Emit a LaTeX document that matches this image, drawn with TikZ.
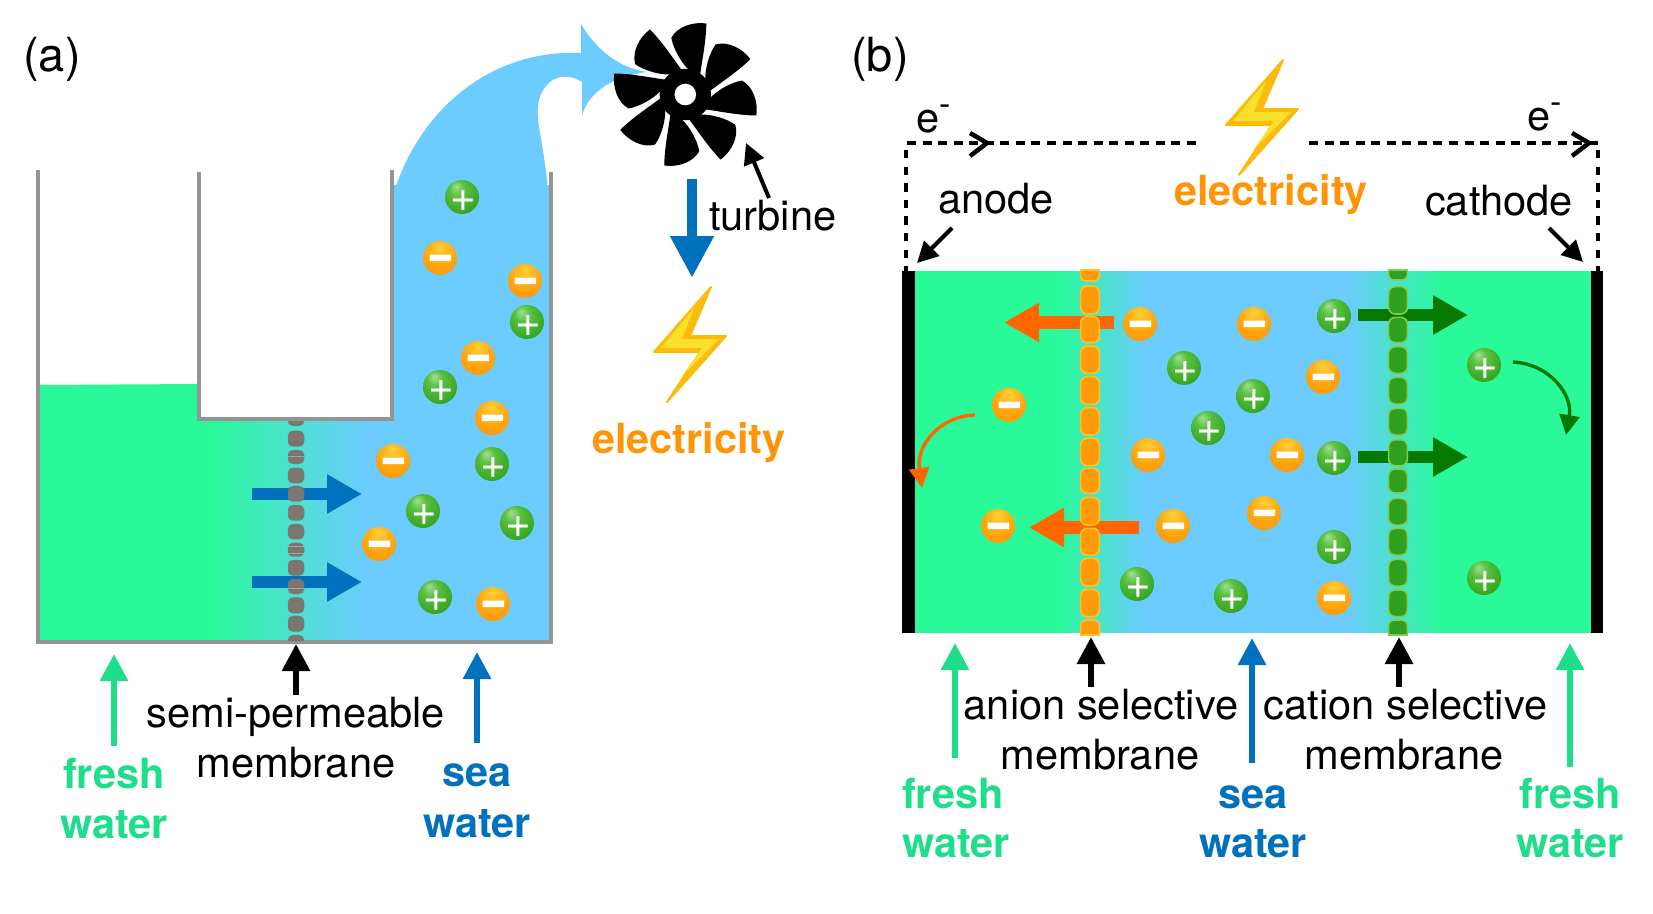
\documentclass[tikz,border=0pt]{standalone}
\usepackage{fontspec}
\usepackage{graphicx}
\setmainfont{TeX Gyre Heros}
\usetikzlibrary{arrows.meta,calc}

\definecolor{freshw}{HTML}{2AF99A}
\definecolor{seaw}{HTML}{6CCBFF}
\definecolor{wall}{HTML}{949494}
\definecolor{freshtxt}{HTML}{1FDD8B}
\definecolor{seatxt}{HTML}{0071BC}
\definecolor{powertxt}{HTML}{FF9408}
\definecolor{anionflow}{HTML}{FF6600}
\definecolor{cationflow}{HTML}{067A00}
\definecolor{boltedge}{HTML}{FBBB0B}
\definecolor{boltcore}{HTML}{F9E02B}
\definecolor{pelgray}{HTML}{7A7670}
\definecolor{pelgrayline}{HTML}{A8A5A0}
\definecolor{pelorange}{HTML}{FF9A08}
\definecolor{pelorangeline}{HTML}{FFC12A}
\definecolor{pelgreen}{HTML}{2FA01E}
\definecolor{pelgreenline}{HTML}{80CC58}

\definecolor{cat0}{HTML}{A0E090}
\definecolor{cat1}{HTML}{58C040}
\definecolor{cat2}{HTML}{33A41E}
\definecolor{cat3}{HTML}{0F7D10}
\definecolor{cat4}{HTML}{006008}
\definecolor{ani0}{HTML}{FFD038}
\definecolor{ani1}{HTML}{FFA60E}
\definecolor{ani2}{HTML}{FF8C04}
\definecolor{ani3}{HTML}{FF7000}

\pgfdeclareradialshading{cationball}{\pgfpoint{-9bp}{16bp}}{
  color(0bp)=(cat0);
  color(12bp)=(cat1);
  color(32bp)=(cat2);
  color(44bp)=(cat3);
  color(50bp)=(cat4)}
\pgfdeclareradialshading{anionball}{\pgfpoint{0bp}{18bp}}{
  color(0bp)=(ani0);
  color(22bp)=(ani1);
  color(42bp)=(ani2);
  color(50bp)=(ani3)}

\tikzset{
  lab/.style={inner sep=0pt,anchor=base,font=\fontsize{41.6}{50}\selectfont},
  boldlab/.style={lab,font=\fontsize{41.5}{50}\selectfont\bfseries},
  panel/.style={lab,font=\fontsize{47}{50}\selectfont},
  cation/.style={circle,minimum size=34pt,inner sep=0pt,shading=cationball,text=white,
    font=\fontsize{44}{44}\selectfont},
  anion/.style={circle,minimum size=34pt,inner sep=0pt,shading=anionball,text=white,
    font=\fontsize{46}{46}\selectfont\bfseries},
  tagarrow/.style={line width=6pt,-{Triangle[length=27pt,width=27pt]}},
  thinarrow/.style={line width=4pt,-{Triangle[length=21pt,width=21pt]}},
  blockarrow/.style={line width=12.5pt,-{Triangle[length=35pt,width=37pt]}},
  bendarrow/.style={line width=3.4pt,-{Triangle[length=20pt,width=20pt]}},
  wire/.style={line width=4.4pt,dash pattern=on 9pt off 6.55pt},
  riser/.style={line width=3.4pt,dash pattern=on 8.3pt off 8.3pt},
  chevron/.style={line width=4.5pt},
  vessel/.style={draw=wall,line width=3.6pt},
  graypellet/.style={fill=pelgray,rounded corners=5pt},
  orangepellet/.style={fill=pelorange,draw=pelorangeline,line width=1.6pt,rounded corners=6.5pt},
  greenpellet/.style={fill=pelgreen,draw=pelgreenline,line width=1.6pt,rounded corners=6.5pt},
  bolt/.pic={
    \fill[boltedge,draw=boltedge,line width=2pt,line join=round]
      (0,1) -- (-57,66) -- (-11,66) -- (-44,116) -- (15,50) -- (-21,50) -- cycle;
    \fill[boltcore] (-17,22) -- (-50,62) -- (-9,62) -- (-29,90) -- (8,53) -- (-29,53) -- cycle;
  },
  blade/.pic={
    \fill (3.3,-25) .. controls (-5,-33) and (-12,-46) .. (-14,-56.7)
      .. controls (-8,-68) and (8,-73) .. (21,-71)
      .. controls (21,-55) and (17,-35) .. (15,-21) -- (0,0) -- cycle;
  }
}

% ion glyphs: zero-height boxes, so the sphere's centre is the glyph's baseline
\newcommand\plusmark{\hspace*{2.6pt}\raisebox{-14.4pt}[0pt][0pt]{+}}
\newcommand\minusmark{\hspace*{2pt}\raisebox{-16pt}[0pt][0pt]{\scalebox{1}[1.4]{−}}}
\newcommand\esup{\raisebox{16.5pt}{\fontsize{34}{34}\selectfont -}}

% a connector between two named ends
\newcommand\link[4]{\coordinate (#1a) at #3;\coordinate (#1b) at #4;\draw[#2] (#1a) -- (#1b);}

% a column of membrane pellets: x, width, style, list of centre/height
\newcommand\pellets[4]{%
  \foreach \c/\h in {#4}{%
    \path[#3] ({#1-#2/2},{\c-\h/2}) rectangle ({#1+#2/2},{\c+\h/2});}}
% end cap of a membrane column: x, width, style, flat edge y, round edge y
\newcommand\pellettop[5]{%
  \path[#3,sharp corners] ({#1-#2/2},#4) {[rounded corners=5pt] -- ({#1-#2/2},#5) -- ({#1+#2/2},#5)} -- ({#1+#2/2},#4) -- cycle;}

\begin{document}
\begin{tikzpicture}[x=1pt,y=-1pt]
\useasboundingbox (0,0) rectangle (1653,913);

% ---------- left panel: water bodies ----------
\begin{scope}
  \clip (38,385) -- (199,384) -- (199,419) -- (392,419) -- (392,185) -- (551,185) -- (551,642) -- (38,642) -- cycle;
  \fill[freshw] (30,380) rectangle (211,650);
  \shade[left color=freshw,right color=seaw] (210,380) rectangle (368,650);
  \fill[seaw] (367,180) rectangle (560,650);
\end{scope}

% rising stream towards the turbine
\fill[seaw] (394,192) .. controls (420,110) and (490,49) .. (581,53)
  -- (581,24) .. controls (598,52) and (620,68) .. (647,72)
  .. controls (615,76) and (590,90) .. (582,115)
  -- (582,82) .. controls (570,74) and (555,75) .. (547,85)
  .. controls (535,98) and (537,115) .. (540,133)
  .. controls (543,150) and (547,175) .. (548,192) -- cycle;

% vessel walls
\draw[vessel] (38,170) -- (38,642) -- (551,642) -- (551,172);
\draw[vessel] (199,172) -- (199,419) -- (392,419) -- (392,170);

% water crossing the semi-permeable membrane
\link{osmA}{seatxt,blockarrow}{(252,494)}{(362,494)}
\link{osmB}{seatxt,blockarrow}{(252,582)}{(362,582)}
\pellettop{296}{16.5}{graypellet}{421}{426}
\pellets{296}{16.5}{graypellet}{438.7/16,457/14,475.5/15.6,493.8/15.7,512.8/15.7,531.7/15.3,549.7/14,567.8/15.7,586.5/15,605.3/16,623.8/15.7}
\pellettop{296}{16.5}{graypellet}{641}{635}
\foreach \y in {456.7,546.7,553,588}{\draw[pelgrayline,line width=.8pt] (288,\y) -- (304,\y);}

% ions in the sea water
\foreach \n/\x/\y in {1/462/197,2/527/322,3/440/387,4/492/464,5/423/511,6/517/523,7/435/597}
  {\node[cation] (ap\n) at (\x,\y) {\plusmark};}
\foreach \n/\x/\y in {1/440/258,2/525/281,3/478/358,4/492/418,5/393/461,6/379/544,7/493/604}
  {\node[anion] (an\n) at (\x,\y) {\minusmark};}

% turbine
\begin{scope}[shift={(685.3,94.5)},scale=1.03]
  \foreach \k in {0,...,7}{\pic[rotate=-45*\k] {blade};}
  \fill (0,0) circle[radius=25];
  \fill[white] (0,0) circle[radius=10.5];
\end{scope}
\node[lab,anchor=base west] (turbineL) at (709,230) {turbine};
\link{turb}{thinarrow}{(769,198)}{(746,143)}
\link{gen}{seatxt,line width=10.5pt,-{Triangle[length=42pt,width=41pt]}}{(692,179)}{(692,278)}
\pic at (711,286) {bolt};
\node[boldlab,text=powertxt] (powerA) at (689,453) {electricity};

% left panel labels
\node[panel] (tagA) at (52,71) {(a)};
\link{fa}{freshtxt,tagarrow}{(114,746)}{(114,654)}
\link{ma}{tagarrow}{(296,695)}{(296,644)}
\link{sa}{seatxt,tagarrow}{(477,743)}{(477,652)}
\node[lab] (semi) at (296,727) {semi-permeable};
\node[lab] (semiB) at (296,777) {membrane};
\node[boldlab,text=freshtxt] (freshA) at (114,788) {fresh};
\node[boldlab,text=freshtxt] (freshB) at (114,838) {water};
\node[boldlab,text=seatxt] (seaA) at (477,786) {sea};
\node[boldlab,text=seatxt] (seaB) at (477,837) {water};

% ---------- right panel: cell ----------
\fill[freshw] (914,271) rectangle (1061,633);
\shade[left color=freshw,right color=seaw] (1060,271) rectangle (1146,633);
\fill[seaw] (1145,271) rectangle (1346,633);
\shade[left color=seaw,right color=freshw] (1345,271) rectangle (1441,633);
\fill[freshw] (1440,271) rectangle (1592,633);
% trim the shaded bands to the cell's edges
\fill[white] (914,266) rectangle (1592,271);
\fill[white] (914,633) rectangle (1592,637);
\fill (902,271) rectangle (915,633);
\fill (1591,271) rectangle (1603,633);

% external circuit
\link{wa}{wire}{(907,143)}{(1196,143)}
\link{wb}{wire}{(1309,143)}{(1598,143)}
\link{ra}{riser}{(906,150)}{(906,271)}
\link{rb}{riser}{(1598,150)}{(1598,271)}
\draw[chevron] (970,133) -- (987,143) -- (970,156);
\draw[chevron] (1572,133) -- (1589,143) -- (1572,156);
\node[lab] (eA) at (934,132) {e\esup};
\node[lab] (eB) at (1545,130) {e\esup};
\pic at (1283,59) {bolt};
\node[boldlab,text=powertxt] (powerB) at (1271,205) {electricity};
\node[lab] (anodeL) at (996,213) {anode};
\node[lab] (cathodeL) at (1499,215) {cathode};
\link{ano}{thinarrow}{(952,228)}{(917,263)}
\link{cat}{thinarrow}{(1549,228)}{(1583,262)}
\node[panel] (tagB) at (880,71) {(b)};

% ion transport through the membranes
\link{ionA}{anionflow,blockarrow}{(1114,322.5)}{(1004,322.5)}
\link{ionB}{anionflow,blockarrow}{(1139,527.5)}{(1029,527.5)}
\link{ionC}{cationflow,blockarrow}{(1358,315)}{(1468,315)}
\link{ionD}{cationflow,blockarrow}{(1358,457)}{(1468,457)}

\pellettop{1090}{18.7}{orangepellet}{270}{281}
\pellets{1090}{18.7}{orangepellet}{300/28,329.7/26,359.7/27,390.5/27.7,421.3/27.3,452/27.3,480.8/25,511.2/27.7,541.7/26.7,572.2/27.7,603/27.4}
\pellettop{1090}{18.7}{orangepellet}{635}{620}
\pellettop{1398}{18.7}{greenpellet}{270}{280}
\pellets{1398}{18.7}{greenpellet}{300.3/27.4,330/25.3,360/26.7,390.7/26.7,421.7/26.7,452.7/26,481/24,511.7/26.7,541.7/26.7,572.7/26.7,603.3/26.7}
\pellettop{1398}{18.7}{greenpellet}{635}{620}

% ions in the cell
\foreach \n/\x/\y in {1/1140/324,2/1254/324,3/1009/405,4/1148/455,5/1287/455,6/998/526,7/1173/526,8/1264/513,9/1323/377,10/1334/598}
  {\node[anion] (bn\n) at (\x,\y) {\minusmark};}
\foreach \n/\x/\y in {1/1184/368,2/1253/396,3/1208/428,4/1137/584,5/1231/596,6/1334/316,7/1484/365,8/1334/458,9/1334/547,10/1484/578}
  {\node[cation] (bp\n) at (\x,\y) {\plusmark};}

% ions discharging at the electrodes
\coordinate (dischargeA) at (975,415);
\coordinate (anodeEnd) at (922,488);
\draw[anionflow,bendarrow] (dischargeA) .. controls (940,416) and (916,445) .. (anodeEnd);
\coordinate (dischargeB) at (1513,362);
\coordinate (cathodeEnd) at (1566,435);
\draw[cationflow,bendarrow] (dischargeB) .. controls (1550,364) and (1573,395) .. (cathodeEnd);

% right panel labels
\link{fb}{freshtxt,tagarrow}{(955,758)}{(955,643)}
\link{mb}{tagarrow}{(1091,687)}{(1091,637)}
\link{sb}{seatxt,tagarrow}{(1252,763)}{(1252,638)}
\link{mc}{tagarrow}{(1399,687)}{(1399,637)}
\link{fc}{freshtxt,tagarrow}{(1570,767)}{(1570,643)}
\node[lab] (anionL) at (1101,719) {anion selective};
\node[lab] (anionM) at (1100,769) {membrane};
\node[lab] (cationL) at (1405.5,719) {cation selective};
\node[lab] (cationM) at (1404,769) {membrane};
\node[boldlab,text=freshtxt] (freshC) at (953,808) {fresh};
\node[boldlab,text=freshtxt] (freshD) at (956,857) {water};
\node[boldlab,text=seatxt] (seaC) at (1253,808) {sea};
\node[boldlab,text=seatxt] (seaD) at (1253,857) {water};
\node[boldlab,text=freshtxt] (freshE) at (1570,808) {fresh};
\node[boldlab,text=freshtxt] (freshF) at (1570,857) {water};
\end{tikzpicture}
\end{document}
